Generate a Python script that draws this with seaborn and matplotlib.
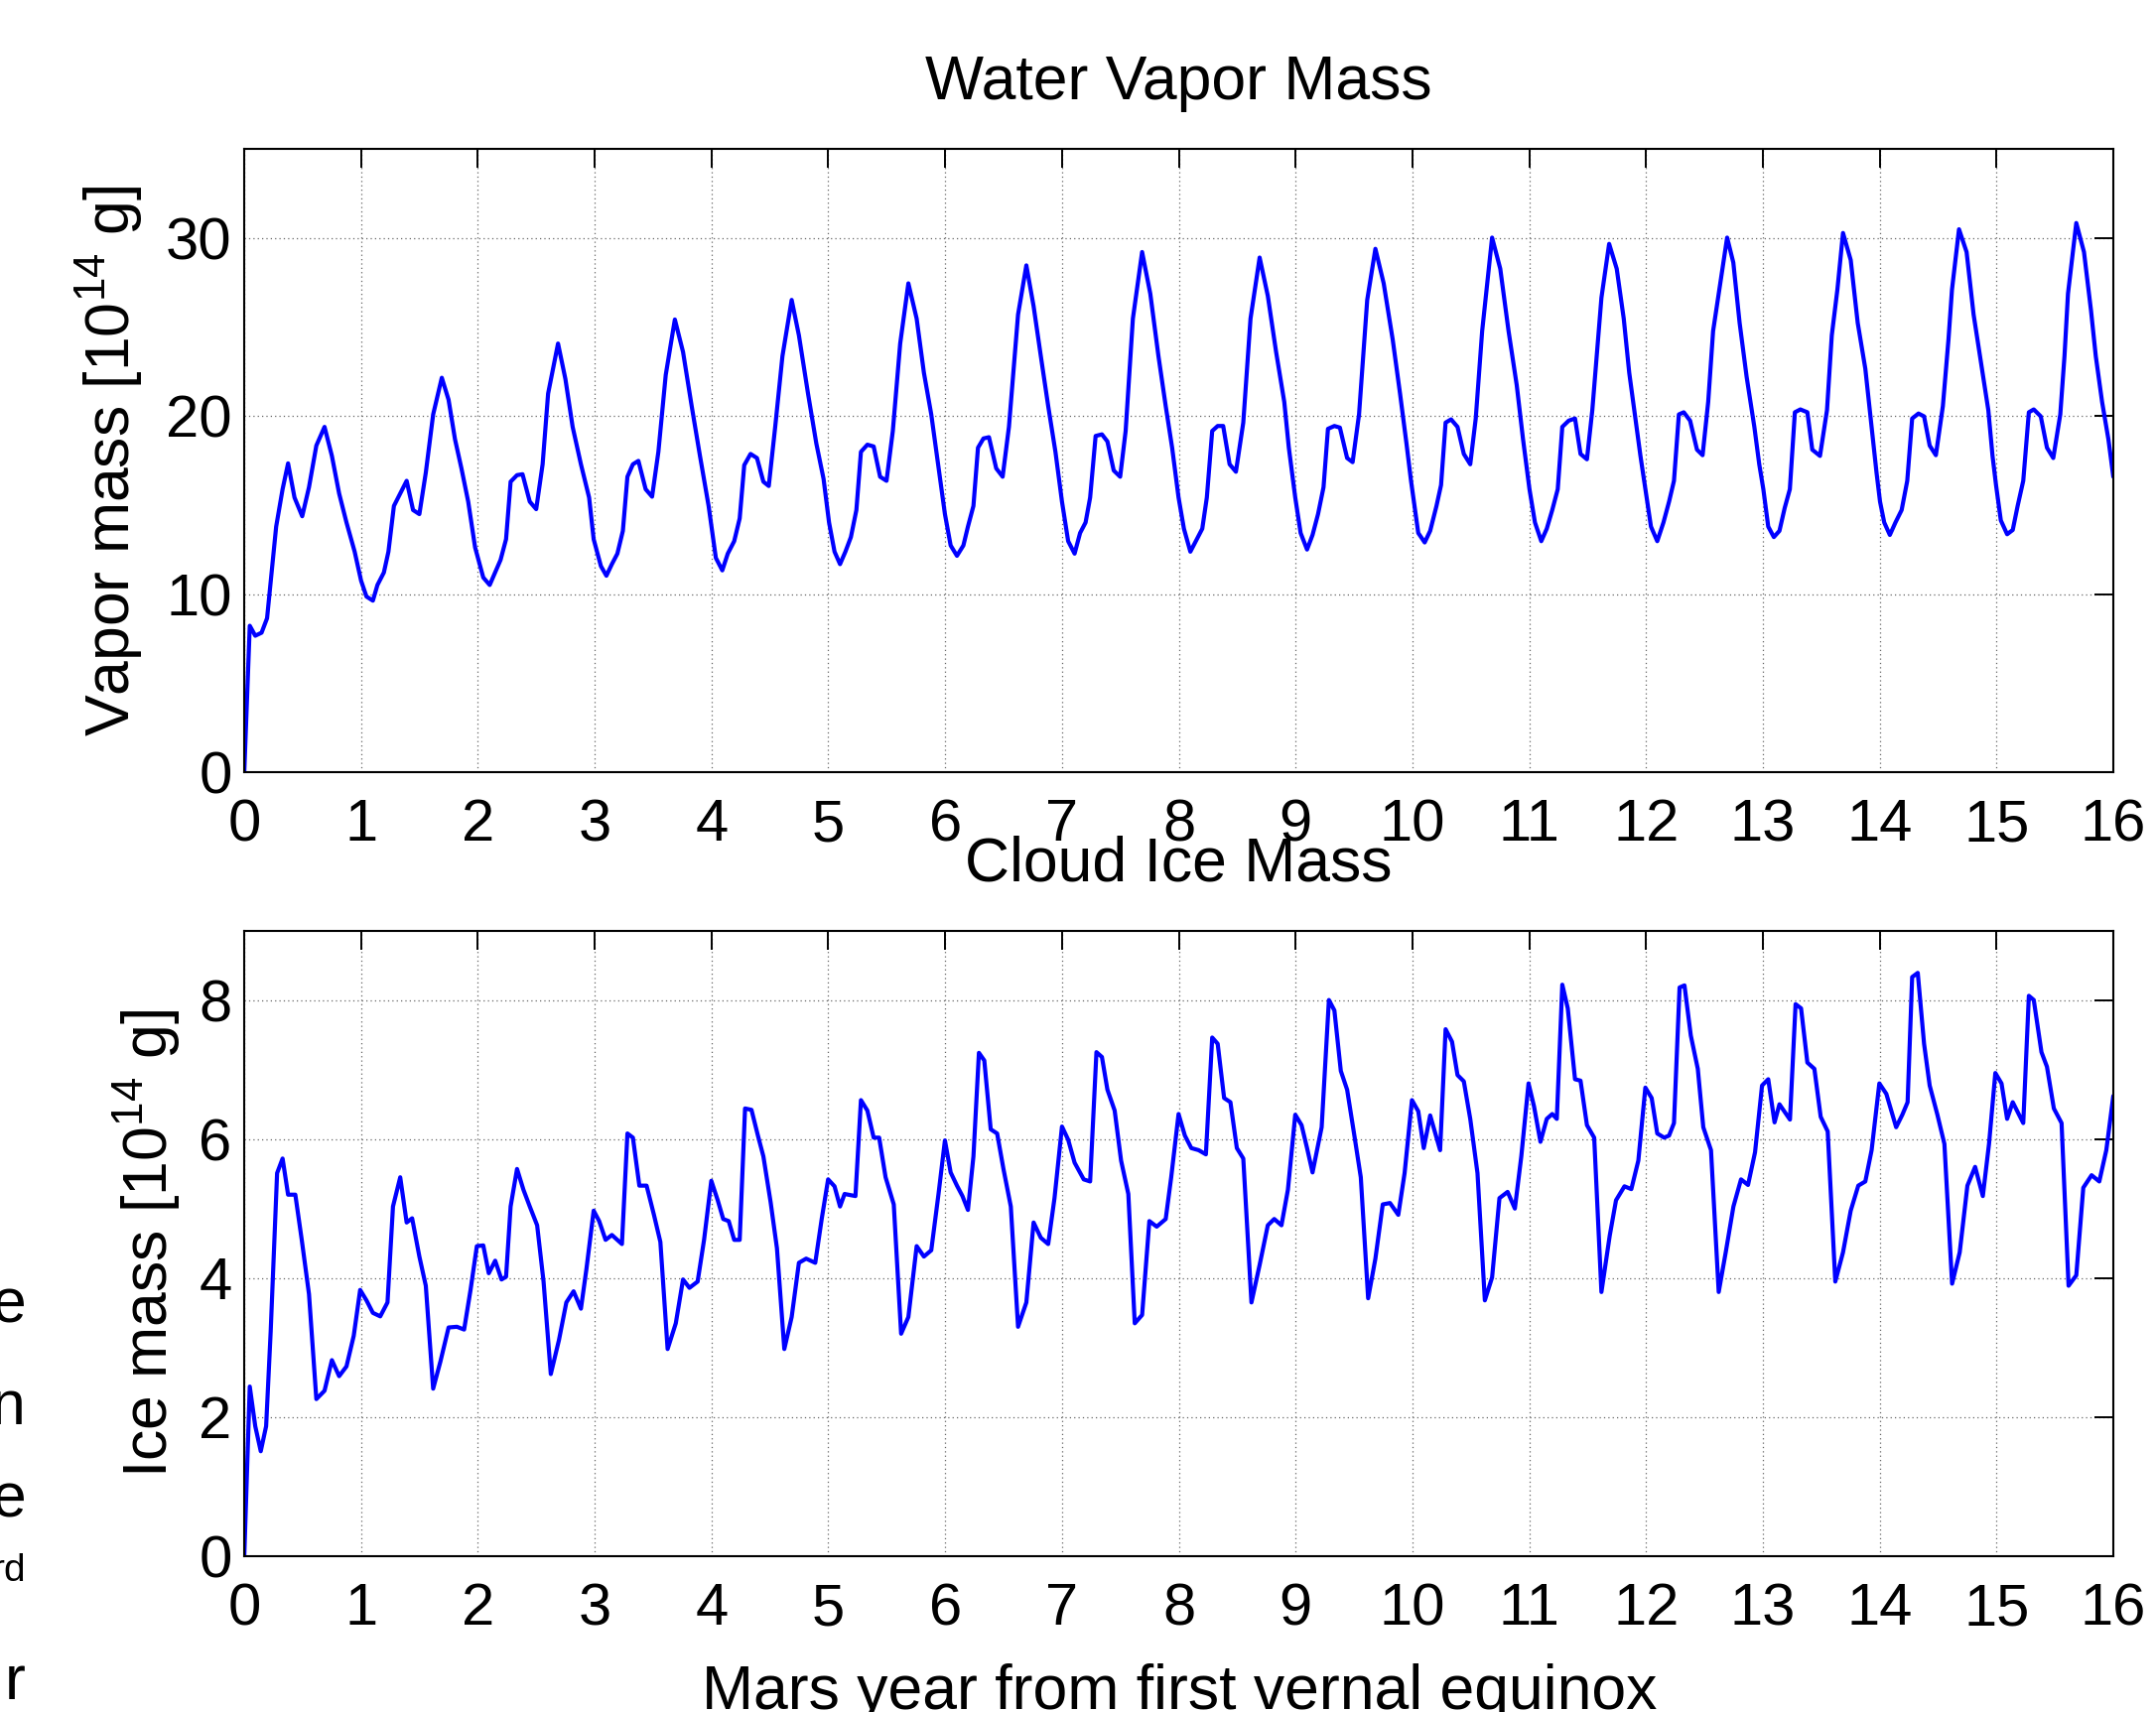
import matplotlib
matplotlib.use("Agg")
import matplotlib.pyplot as plt
import seaborn as sns

# === DATA ===
vapor_year = [
    0.000, 0.047, 0.094, 0.148, 0.195, 0.273, 0.328, 0.375, 0.430, 0.496, 0.554, 0.617, 0.687, 0.750, 0.812, 0.875, 0.945,
    1.000, 1.046, 1.101, 1.140, 1.195, 1.234, 1.281, 1.335, 1.390, 1.445, 1.499, 1.554, 1.617, 1.691, 1.749, 1.804, 1.859, 1.917, 1.976,
    2.046, 2.101, 2.140, 2.194, 2.241, 2.280, 2.335, 2.382, 2.444, 2.499, 2.554, 2.601, 2.686, 2.749, 2.811, 2.882, 2.952, 2.991,
    3.053, 3.100, 3.147, 3.194, 3.241, 3.280, 3.327, 3.374, 3.436, 3.491, 3.545, 3.608, 3.686, 3.756, 3.830, 3.901, 3.975,
    4.037, 4.092, 4.139, 4.194, 4.241, 4.280, 4.334, 4.389, 4.444, 4.490, 4.545, 4.607, 4.686, 4.748, 4.826, 4.897, 4.959,
    5.006, 5.053, 5.100, 5.146, 5.193, 5.240, 5.279, 5.334, 5.388, 5.443, 5.498, 5.552, 5.615, 5.685, 5.756, 5.818, 5.881, 5.935, 5.998,
    6.047, 6.101, 6.156, 6.195, 6.242, 6.281, 6.328, 6.375, 6.437, 6.492, 6.546, 6.624, 6.695, 6.757, 6.819, 6.882, 6.944,
    7.000, 7.053, 7.108, 7.155, 7.202, 7.241, 7.288, 7.342, 7.389, 7.443, 7.498, 7.545, 7.607, 7.686, 7.756, 7.826, 7.888, 7.943, 7.998,
    8.044, 8.099, 8.146, 8.201, 8.240, 8.286, 8.333, 8.380, 8.435, 8.489, 8.552, 8.614, 8.692, 8.762, 8.833, 8.903, 8.942, 8.997,
    9.043, 9.098, 9.145, 9.192, 9.239, 9.277, 9.332, 9.379, 9.441, 9.488, 9.543, 9.613, 9.683, 9.754, 9.831, 9.894, 9.949, 9.988,
    10.050, 10.105, 10.152, 10.206, 10.245, 10.284, 10.331, 10.386, 10.440, 10.495, 10.542, 10.597, 10.682, 10.752, 10.823, 10.893, 10.947,
    11.002, 11.049, 11.103, 11.150, 11.197, 11.244, 11.283, 11.338, 11.392, 11.439, 11.494, 11.540, 11.618, 11.684, 11.749, 11.809, 11.856, 11.904, 11.952, 11.994,
    12.042, 12.096, 12.149, 12.197, 12.239, 12.281, 12.323, 12.377, 12.436, 12.484, 12.532, 12.574, 12.622, 12.694, 12.747, 12.801, 12.861, 12.927, 12.969,
    13.004, 13.046, 13.094, 13.142, 13.187, 13.231, 13.274, 13.321, 13.381, 13.423, 13.489, 13.549, 13.590, 13.638, 13.686, 13.752, 13.812, 13.877, 13.931, 13.973,
    14.003, 14.039, 14.087, 14.135, 14.188, 14.236, 14.278, 14.332, 14.380, 14.428, 14.481, 14.541, 14.589, 14.619, 14.679, 14.744, 14.804, 14.870, 14.930, 14.966, 14.996,
    15.037, 15.091, 15.139, 15.181, 15.229, 15.277, 15.319, 15.379, 15.432, 15.486, 15.546, 15.582, 15.612, 15.683, 15.749, 15.809, 15.850, 15.904, 15.958, 16.000,
]
vapor_mass = [
    0.0, 8.22, 7.66, 7.83, 8.64, 13.79, 15.89, 17.34, 15.42, 14.37, 16.00, 18.34, 19.39, 17.76, 15.65, 14.02, 12.38,
    10.75, 9.86, 9.63, 10.51, 11.21, 12.38, 14.95, 15.65, 16.36, 14.72, 14.49, 16.82, 20.09, 22.15, 20.91, 18.69, 17.06, 15.19, 12.62,
    10.93, 10.51, 11.10, 11.92, 13.08, 16.31, 16.68, 16.73, 15.19, 14.77, 17.29, 21.26, 24.07, 22.08, 19.39, 17.29, 15.42, 13.08,
    11.57, 11.03, 11.68, 12.27, 13.55, 16.59, 17.29, 17.48, 15.89, 15.47, 17.99, 22.31, 25.42, 23.60, 20.56, 17.76, 14.95,
    12.03, 11.33, 12.27, 12.97, 14.25, 17.24, 17.87, 17.64, 16.31, 16.07, 19.39, 23.36, 26.52, 24.53, 21.26, 18.46, 16.47,
    14.02, 12.38, 11.68, 12.38, 13.20, 14.72, 17.99, 18.39, 18.29, 16.59, 16.36, 19.16, 24.07, 27.45, 25.47, 22.43, 20.09, 17.52, 14.49,
    12.73, 12.15, 12.73, 13.79, 14.95, 18.22, 18.74, 18.81, 17.06, 16.59, 19.39, 25.70, 28.46, 26.17, 23.36, 20.56, 17.99,
    15.19, 12.97, 12.27, 13.43, 14.02, 15.42, 18.88, 18.97, 18.57, 16.94, 16.59, 19.16, 25.47, 29.21, 26.87, 23.36, 20.56, 18.22, 15.42,
    13.67, 12.38, 12.97, 13.67, 15.42, 19.16, 19.44, 19.44, 17.29, 16.87, 19.63, 25.47, 28.90, 26.75, 23.60, 20.79, 18.22, 15.42,
    13.43, 12.50, 13.32, 14.49, 16.00, 19.28, 19.44, 19.35, 17.64, 17.41, 20.09, 26.52, 29.39, 27.45, 24.30, 21.26, 18.46, 16.36,
    13.43, 12.90, 13.55, 14.95, 16.12, 19.63, 19.81, 19.39, 17.87, 17.29, 19.86, 24.77, 30.02, 28.27, 24.77, 21.73, 18.69,
    15.89, 14.02, 12.97, 13.67, 14.72, 15.89, 19.39, 19.74, 19.86, 17.87, 17.57, 20.33, 26.64, 29.67, 28.27, 25.47, 22.43, 20.09, 17.76, 15.89,
    13.79, 12.97, 14.02, 15.19, 16.36, 20.09, 20.21, 19.74, 18.11, 17.80, 20.79, 24.77, 26.87, 30.02, 28.62, 25.23, 22.20, 19.39, 17.29,
    15.89, 13.79, 13.20, 13.55, 14.84, 15.89, 20.21, 20.37, 20.21, 18.11, 17.76, 20.33, 24.53, 27.10, 30.28, 28.76, 25.23, 22.66, 19.39, 16.82,
    15.19, 14.02, 13.32, 14.02, 14.72, 16.36, 19.86, 20.14, 19.98, 18.34, 17.80, 20.56, 24.30, 27.10, 30.49, 29.21, 25.70, 22.90, 20.33, 17.76, 16.12,
    14.14, 13.36, 13.60, 14.95, 16.36, 20.21, 20.37, 19.98, 18.22, 17.64, 20.09, 23.36, 26.87, 30.84, 29.21, 25.93, 23.36, 20.79, 18.69, 16.59,
]

ice_year = [
    0.000, 0.047, 0.094, 0.141, 0.187, 0.226, 0.281, 0.328, 0.375, 0.437, 0.492, 0.554, 0.617, 0.687, 0.750, 0.812, 0.875, 0.937, 0.992,
    1.046, 1.101, 1.164, 1.226, 1.273, 1.335, 1.390, 1.437, 1.499, 1.554, 1.617, 1.679, 1.749, 1.820, 1.882, 1.937, 1.991,
    2.046, 2.093, 2.148, 2.202, 2.241, 2.280, 2.335, 2.390, 2.444, 2.507, 2.562, 2.624, 2.694, 2.757, 2.819, 2.882, 2.929, 2.991,
    3.038, 3.093, 3.147, 3.233, 3.280, 3.327, 3.382, 3.444, 3.507, 3.562, 3.624, 3.694, 3.756, 3.811, 3.881, 3.936, 3.998,
    4.053, 4.100, 4.147, 4.194, 4.241, 4.287, 4.342, 4.397, 4.444, 4.506, 4.560, 4.623, 4.686, 4.748, 4.810, 4.888, 4.943, 4.998,
    5.053, 5.100, 5.139, 5.232, 5.279, 5.334, 5.388, 5.435, 5.490, 5.560, 5.623, 5.685, 5.756, 5.818, 5.881, 5.943, 5.998,
    6.047, 6.101, 6.148, 6.195, 6.242, 6.289, 6.335, 6.390, 6.445, 6.499, 6.562, 6.624, 6.695, 6.757, 6.819, 6.882, 6.936,
    7.000, 7.053, 7.108, 7.186, 7.241, 7.295, 7.342, 7.389, 7.451, 7.506, 7.568, 7.623, 7.686, 7.748, 7.811, 7.888, 7.935, 7.998,
    8.052, 8.107, 8.170, 8.232, 8.286, 8.333, 8.388, 8.442, 8.497, 8.552, 8.622, 8.692, 8.762, 8.817, 8.879, 8.934, 8.997,
    9.051, 9.098, 9.145, 9.223, 9.285, 9.332, 9.387, 9.441, 9.503, 9.558, 9.621, 9.683, 9.746, 9.808, 9.879, 9.933, 9.996,
    10.050, 10.097, 10.152, 10.237, 10.284, 10.339, 10.386, 10.440, 10.495, 10.557, 10.620, 10.682, 10.745, 10.815, 10.877, 10.932, 10.994,
    11.041, 11.096, 11.150, 11.197, 11.236, 11.283, 11.330, 11.392, 11.439, 11.494, 11.556, 11.618, 11.689, 11.743, 11.815, 11.874, 11.934, 11.994,
    12.048, 12.096, 12.155, 12.197, 12.239, 12.287, 12.329, 12.383, 12.443, 12.490, 12.556, 12.622, 12.682, 12.748, 12.813, 12.873, 12.933, 12.993,
    13.046, 13.100, 13.142, 13.232, 13.280, 13.327, 13.381, 13.441, 13.495, 13.555, 13.620, 13.686, 13.752, 13.817, 13.877, 13.931, 13.997,
    14.057, 14.141, 14.194, 14.239, 14.278, 14.326, 14.380, 14.428, 14.494, 14.554, 14.620, 14.685, 14.751, 14.817, 14.883, 14.936, 14.990,
    15.043, 15.091, 15.139, 15.229, 15.277, 15.319, 15.385, 15.432, 15.491, 15.557, 15.617, 15.683, 15.743, 15.814, 15.880, 15.940, 16.000,
]
ice_mass = [
    0.00, 2.44, 1.87, 1.51, 1.87, 3.23, 5.51, 5.72, 5.20, 5.20, 4.55, 3.77, 2.26, 2.38, 2.82, 2.59, 2.73, 3.17, 3.83,
    3.68, 3.50, 3.45, 3.65, 5.03, 5.45, 4.80, 4.86, 4.31, 3.89, 2.41, 2.80, 3.29, 3.30, 3.26, 3.83, 4.46,
    4.47, 4.07, 4.25, 3.98, 4.02, 5.03, 5.57, 5.27, 5.03, 4.76, 3.95, 2.62, 3.11, 3.65, 3.81, 3.56, 4.13, 4.97,
    4.82, 4.55, 4.62, 4.49, 6.08, 6.02, 5.33, 5.33, 4.91, 4.52, 2.98, 3.35, 3.98, 3.86, 3.95, 4.55, 5.40,
    5.12, 4.85, 4.82, 4.55, 4.55, 6.44, 6.42, 6.05, 5.75, 5.09, 4.43, 2.98, 3.44, 4.22, 4.28, 4.22, 4.85, 5.42,
    5.32, 5.03, 5.21, 5.18, 6.56, 6.41, 6.02, 6.02, 5.45, 5.06, 3.20, 3.44, 4.46, 4.31, 4.40, 5.21, 5.98,
    5.52, 5.33, 5.18, 4.98, 5.75, 7.24, 7.13, 6.14, 6.08, 5.57, 5.03, 3.30, 3.65, 4.80, 4.58, 4.49, 5.15,
    6.18, 5.99, 5.66, 5.42, 5.39, 7.25, 7.18, 6.71, 6.41, 5.69, 5.21, 3.35, 3.47, 4.82, 4.74, 4.85, 5.45, 6.36,
    6.05, 5.87, 5.84, 5.78, 7.46, 7.37, 6.59, 6.53, 5.87, 5.72, 3.65, 4.19, 4.76, 4.85, 4.76, 5.27, 6.35,
    6.20, 5.87, 5.52, 6.17, 8.00, 7.85, 6.98, 6.71, 6.05, 5.45, 3.71, 4.28, 5.06, 5.08, 4.91, 5.51, 6.56,
    6.40, 5.87, 6.34, 5.84, 7.58, 7.40, 6.92, 6.83, 6.29, 5.51, 3.68, 4.01, 5.15, 5.24, 5.00, 5.75, 6.80,
    6.47, 5.96, 6.29, 6.36, 6.29, 8.22, 7.88, 6.86, 6.84, 6.20, 6.02, 3.80, 4.61, 5.12, 5.32, 5.28, 5.69, 6.74,
    6.59, 6.08, 6.02, 6.05, 6.23, 8.18, 8.21, 7.49, 7.01, 6.17, 5.84, 3.80, 4.37, 5.03, 5.42, 5.34, 5.81, 6.77,
    6.86, 6.24, 6.50, 6.28, 7.94, 7.88, 7.10, 7.01, 6.32, 6.11, 3.95, 4.37, 4.97, 5.33, 5.39, 5.84, 6.80,
    6.65, 6.17, 6.35, 6.53, 8.33, 8.39, 7.37, 6.77, 6.35, 5.93, 3.92, 4.37, 5.33, 5.60, 5.18, 5.93, 6.95,
    6.80, 6.29, 6.53, 6.23, 8.06, 8.00, 7.25, 7.04, 6.44, 6.23, 3.89, 4.04, 5.30, 5.48, 5.39, 5.84, 6.62,
]

year_ticks = list(range(0, 17))
vapor_ticks = [0, 10, 20, 30]
ice_ticks = [0, 2, 4, 6, 8]
edge_letters = ["e", "n", "e", "rd", "r"]

# === STYLE ===
sns.set_theme(style="white")
plt.rcParams["font.family"] = ["Liberation Sans", "DejaVu Sans"]
plt.rcParams["mathtext.fontset"] = "custom"
plt.rcParams["mathtext.rm"] = "Liberation Sans"
plt.rcParams["mathtext.it"] = "Liberation Sans:italic"
plt.rcParams["mathtext.bf"] = "Liberation Sans:bold"
plt.rcParams["text.color"] = "black"
plt.rcParams["axes.labelcolor"] = "black"

FS_TICK = 43
FS = 45
fig = plt.figure(figsize=(21.72, 17.25), dpi=100)
ax1 = fig.add_axes([0.1133, 0.549, 0.8669, 0.364])
ax2 = fig.add_axes([0.1133, 0.091, 0.8669, 0.3655])


def style_axes(ax, yticks, ylim, ylabel, title, label_x):
    ax.set_xlim(0, 16)
    ax.set_ylim(*ylim)
    ax.set_xticks(year_ticks)
    ax.set_yticks(yticks)
    ax.grid(True, color="#666666", linestyle=(0, (1, 2.5)), linewidth=0.9)
    ax.tick_params(direction="in", length=13.5, width=1.4, top=True, right=True,
                   labelsize=FS_TICK, colors="black")
    ax.tick_params(axis="x", pad=19)
    ax.tick_params(axis="y", pad=9)
    for sp in ax.spines.values():
        sp.set_color("black")
        sp.set_linewidth(1.5)
    ax.set_xlabel("")
    ax.set_ylabel(ylabel, fontsize=FS)
    ax.yaxis.set_label_coords(label_x, 0.5)
    ax.set_title(title, fontsize=FS, pad=36, color="black")


sns.lineplot(x=vapor_year, y=vapor_mass, ax=ax1, color="#0000ff", linewidth=3.0,
             sort=False, errorbar=None)
style_axes(ax1, vapor_ticks, (0, 35), r"Vapor mass [10$^{14}$ g]", "Water Vapor Mass", -0.053)

sns.lineplot(x=ice_year, y=ice_mass, ax=ax2, color="#0000ff", linewidth=3.0,
             sort=False, errorbar=None)
style_axes(ax2, ice_ticks, (0, 9), r"Ice mass [10$^{14}$ g]", "Cloud Ice Mass", -0.033)

fig.text(0.547, 0.002, "Mars year from first vernal equinox", ha="center",
         va="baseline", fontsize=FS)

# clipped fragments of text at the left edge
edge_y = [0.2278, 0.1681, 0.1142, 0.0765, 0.0075]
edge_size = [FS, FS, FS, 28, FS]
for letter, y, s in zip(edge_letters, edge_y, edge_size):
    fig.text(0.0118, y, letter, ha="right", va="baseline", fontsize=s)

fig.savefig("out.png", dpi=100, facecolor="white")
